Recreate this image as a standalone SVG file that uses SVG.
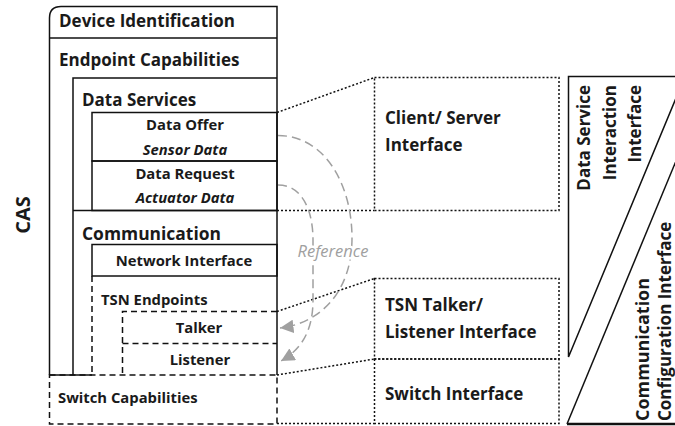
<svg xmlns="http://www.w3.org/2000/svg" width="675" height="426" viewBox="0 0 675 426">
<defs>
<style>
.ln{fill:none;stroke:#111;stroke-width:1.5}
.dash{fill:none;stroke:#111;stroke-width:1.5;stroke-dasharray:6,4}
.dot{fill:none;stroke:#111;stroke-width:1.5;stroke-dasharray:2,2}
.ref{fill:none;stroke:#a0a0a0;stroke-width:1.5;stroke-dasharray:9,5}
text{font-family:"Open Sans","Noto Sans","Liberation Sans",sans-serif;font-weight:bold;fill:#1a1a1a}
.t17{font-size:17px}
.t15{font-size:14.8px}
.it{font-style:italic}
.c{text-anchor:middle}
.e{text-anchor:end}
.reft{font-size:16.5px;font-weight:normal;font-style:italic;fill:#a0a0a0;stroke:#fff;stroke-width:5;paint-order:stroke;text-anchor:middle}
</style>
<marker id="ah" viewBox="0 0 10 10" refX="10" refY="5" markerWidth="9" markerHeight="9" orient="auto" markerUnits="strokeWidth">
<path d="M0,0 L10,5 L0,10 Z" fill="#a0a0a0"/>
</marker>
</defs>
<rect width="675" height="426" fill="#fff"/>

<g id="cas-label"><text transform="translate(30,215) rotate(-90)" style="font-size:20px" text-anchor="middle">CAS</text></g>

<g id="device-identification">
<path class="ln" d="M49.5,375 V18 Q49.5,6.5 61,6.5 H277 V375"/>
<line class="ln" x1="49.5" y1="38" x2="277" y2="38"/>
<text class="t17" x="59" y="27">Device Identification</text>
</g>
<g id="endpoint-capabilities">
<text class="t17" x="59" y="66">Endpoint Capabilities</text>
</g>
<g id="data-services">
<path class="ln" d="M73,375 V78 H277"/>
<text class="t17" x="82" y="106">Data Services</text>
</g>
<g id="data-offer">
<rect class="ln" x="92" y="112.5" width="185" height="48.5"/>
<text class="t15 c" x="185" y="130">Data Offer</text>
<text class="t15 c it" x="185" y="155">Sensor Data</text>
</g>
<g id="data-request">
<rect class="ln" x="92" y="161" width="185" height="49.5"/>
<text class="t15 c" x="185" y="179">Data Request</text>
<text class="t15 c it" x="185" y="203">Actuator Data</text>
</g>
<g id="communication">
<line class="ln" x1="73" y1="210.5" x2="277" y2="210.5"/>
<text class="t17" x="82" y="240" textLength="139" lengthAdjust="spacingAndGlyphs">Communication</text>
</g>
<g id="network-interface">
<rect class="ln" x="92" y="244.5" width="185" height="31.5"/>
<text class="t15 c" x="184" y="266">Network Interface</text>
</g>
<g id="tsn-endpoints">
<path class="dash" d="M92,276 V375"/>
<text class="t15" x="101" y="305">TSN Endpoints</text>
</g>
<g id="talker">
<path class="dash" d="M277,311.5 H122.5 V375"/>
<text class="t15 c" x="199" y="333">Talker</text>
</g>
<g id="listener">
<path class="dash" d="M122.5,343.5 H277"/>
<text class="t15 c" x="200" y="365">Listener</text>
</g>
<g id="switch-capabilities">
<line class="ln" x1="49.5" y1="375" x2="92" y2="375"/>
<rect class="dash" x="49.5" y="375" width="227.5" height="49"/>
<text class="t15" x="58" y="403">Switch Capabilities</text>
</g>

<g id="client-server-interface">
<rect class="dot" x="374.5" y="77.5" width="184.5" height="133"/>
<text class="t17" x="385" y="124">Client/ Server</text>
<text class="t17" x="385" y="151">Interface</text>
</g>
<g id="tsn-talker-listener-interface">
<rect class="dot" x="374.5" y="278.5" width="184.5" height="80.5"/>
<text class="t17" x="385" y="311">TSN Talker/</text>
<text class="t17" x="385" y="338">Listener Interface</text>
</g>
<g id="switch-interface">
<rect class="dot" x="374.5" y="359" width="184.5" height="64.5"/>
<text class="t17" x="385" y="400">Switch Interface</text>
</g>

<g id="data-service-interaction-interface">
<path class="ln" d="M690,76.5 H568.5 V357 L685,76.5"/>
<text class="t17 e" transform="translate(590,85) rotate(-90)">Data Service</text>
<text class="t17 e" transform="translate(616,85) rotate(-90)">Interaction</text>
<text class="t17 e" transform="translate(641,85) rotate(-90)">Interface</text>
</g>
<g id="communication-configuration-interface">
<path class="ln" d="M700,103 L567,424"/>
<line x1="567" y1="424" x2="675" y2="424" stroke="#111" stroke-width="2.5"/>
<text class="t17" transform="translate(649,421) rotate(-90)" textLength="143" lengthAdjust="spacingAndGlyphs">Communication</text>
<text class="t17" transform="translate(671,421) rotate(-90)">Configuration Interface</text>
</g>

<g id="connectors">
<line class="dot" x1="277" y1="112.5" x2="374.5" y2="77.5"/>
<line class="dot" x1="277" y1="210.5" x2="374.5" y2="210.5"/>
<line class="dot" x1="277" y1="311.5" x2="374.5" y2="278.5"/>
<line class="dot" x1="277" y1="375" x2="374.5" y2="359"/>
<line class="dot" x1="277" y1="423.5" x2="374.5" y2="423.5"/>
<path class="ref" d="M278,135.5 C325,135.5 352,185 352,238 C352,290 322,323 280,328" marker-end="url(#ah)"/>
<path class="ref" d="M278,185 C302,185 313,210 313,240 L313,300 C313,330 302,349 281,361" marker-end="url(#ah)"/>
<text class="reft" x="333" y="257">Reference</text>
</g>
</svg>
